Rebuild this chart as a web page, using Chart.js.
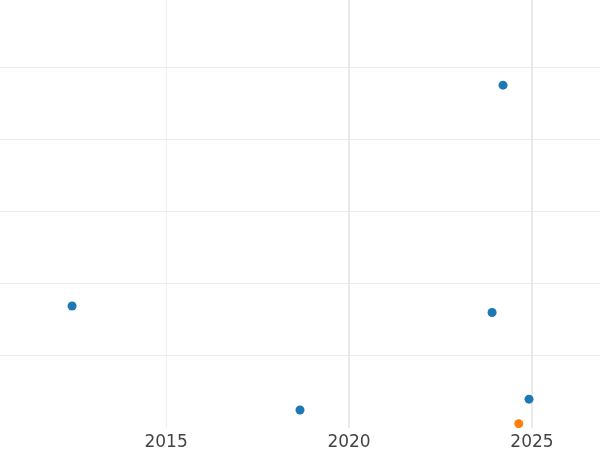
<!DOCTYPE html>
<html>
<head>
<meta charset="utf-8">
<script src="https://cdn.jsdelivr.net/npm/chart.js@4.4.0/dist/chart.umd.min.js"></script>
<style>
  body { margin: 0; background: #fff; }
  canvas { display: block; }
</style>
</head>
<body>
<canvas id="grafico" width="600" height="450"></canvas>
<script>
// ===== Dados =====
const anosAzul = [2012.43, 2018.66, 2023.91, 2024.21, 2024.92];
const valoresAzul = [1.69, 0.25, 1.60, 4.75, 0.40];
const anosLaranja = [2024.64];
const valoresLaranja = [0.06];
const ticksX = [2015, 2020, 2025];
const ticksY = [1, 2, 3, 4, 5];

const pontosAzul = anosAzul.map((x, i) => ({ x, y: valoresAzul[i] }));
const pontosLaranja = anosLaranja.map((x, i) => ({ x, y: valoresLaranja[i] }));

new Chart(document.getElementById("grafico"), {
  type: "scatter",
  data: {
    datasets: [
      { data: pontosAzul, backgroundColor: "#1f77b4", borderColor: "#1f77b4", pointRadius: 4.5, borderWidth: 0 },
      { data: pontosLaranja, backgroundColor: "#ff7f0e", borderColor: "#ff7f0e", pointRadius: 4.5, borderWidth: 0 }
    ]
  },
  options: {
    responsive: false,
    animation: false,
    layout: { padding: 0, autoPadding: false },
    plugins: { legend: { display: false }, tooltip: { enabled: false } },
    scales: {
      x: {
        type: "linear",
        min: 2010.46,
        max: 2026.86,
        afterBuildTicks: s => { s.ticks = ticksX.map(v => ({ value: v })); },
        afterFit: s => { s.height = 22; },
        border: { display: false },
        grid: {
          drawTicks: false,
          color: c => c.tick && c.tick.value === 2015 ? "#f0f0f0" : "#e9e9e9",
          lineWidth: c => c.tick && c.tick.value === 2015 ? 1 : 2
        },
        ticks: {
          padding: 4,
          color: "#444",
          font: { family: "DejaVu Sans", size: 17 },
          callback: v => String(v)
        }
      },
      y: {
        min: 0,
        max: 5.93,
        afterBuildTicks: s => { s.ticks = ticksY.map(v => ({ value: v })); },
        afterFit: s => { s.width = 0; },
        border: { display: false },
        grid: { drawTicks: false, color: "#ebebeb", lineWidth: 1 },
        ticks: { display: false }
      }
    }
  }
});
</script>
</body>
</html>
